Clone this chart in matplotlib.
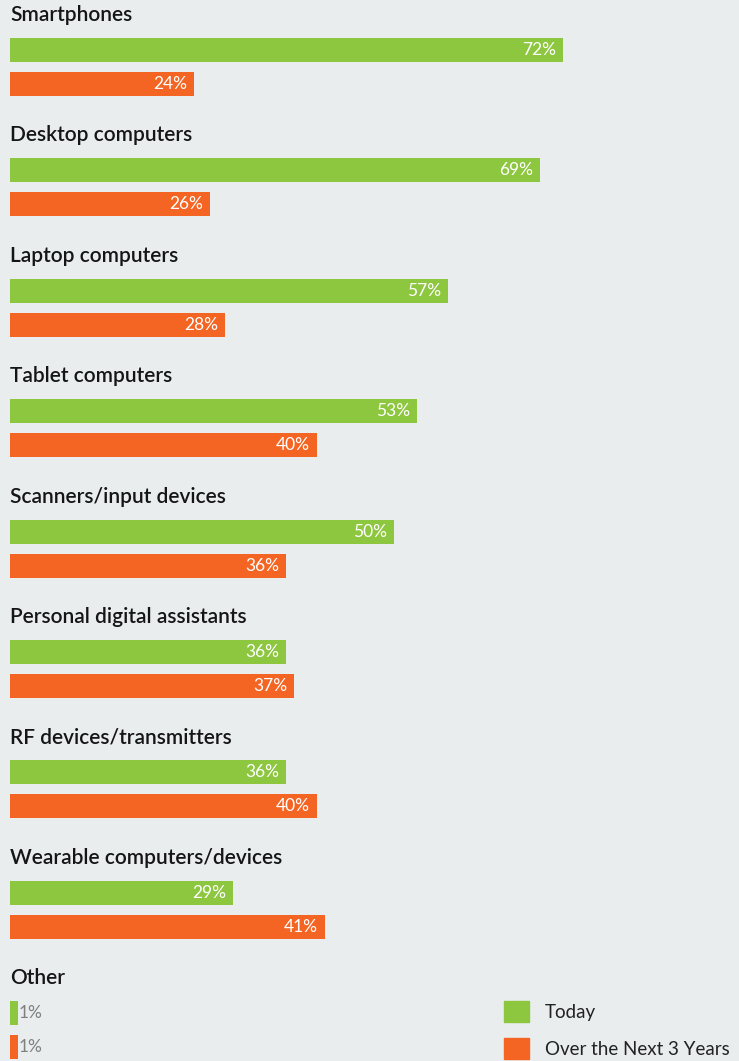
import matplotlib
matplotlib.use("Agg")
import matplotlib.pyplot as plt
from matplotlib.patches import Rectangle

categories = ["Smartphones", "Desktop computers", "Laptop computers", "Tablet computers",
              "Scanners/input devices", "Personal digital assistants", "RF devices/transmitters",
              "Wearable computers/devices", "Other"]
today = [72, 69, 57, 53, 50, 36, 36, 29, 1]
next3 = [24, 26, 28, 40, 36, 37, 40, 41, 1]
series_names = ["Today", "Over the Next 3 Years"]

GREEN = "#8dc63f"
ORANGE = "#f46524"
BG = "#e9edee"

W, H, DPI = 739, 1061, 100
fig = plt.figure(figsize=(W / DPI, H / DPI), dpi=DPI, facecolor=BG)
ax = fig.add_axes([0, 0, 1, 1])
ax.set_facecolor(BG)

px_per_unit = 7.68
ax.set_xlim(-10 / px_per_unit, (W - 10) / px_per_unit)
group_px = 120.4
top_shift = 5 / group_px
ax.set_ylim(H / group_px + top_shift, top_shift)
ax.axis("off")

bar_h = 24 / group_px
off_g = 55 / group_px
off_o = 89 / group_px
off_lab = 20 / group_px

fontfam = ["Lato", "DejaVu Sans"]
for i, (cat, t, n) in enumerate(zip(categories, today, next3)):
    ax.text(0.05, i + off_lab, cat, fontsize=15, color="#151515", va="center", ha="left",
            family=fontfam, fontweight="semibold")
    ax.barh(i + off_g, t, height=bar_h, color=GREEN, left=0)
    ax.barh(i + off_o, n, height=bar_h, color=ORANGE, left=0)
    for val, y in ((t, i + off_g), (n, i + off_o)):
        if val >= 5:
            ax.text(val - 7 / px_per_unit, y, f"{val}%", ha="right", va="center",
                    color="white", fontsize=12.5, family=fontfam)
        else:
            ax.text(val + 0.5 / px_per_unit, y, f"{val}%", ha="left", va="center",
                    color="#808080", fontsize=12.5, family=fontfam)

# legend
handles = [Rectangle((0, 0), 1, 1, color=GREEN), Rectangle((0, 0), 1, 1, color=ORANGE)]
leg = fig.legend(handles, series_names, loc="lower left", bbox_to_anchor=(487 / W, -0.014),
                 frameon=False, handlelength=1.33, handleheight=1.33,
                 labelspacing=0.85, handletextpad=0.85, prop={"family": fontfam, "size": 13.5})
for txt in leg.get_texts():
    txt.set_color("#222222")

fig.savefig("out.png", dpi=DPI, facecolor=BG)
